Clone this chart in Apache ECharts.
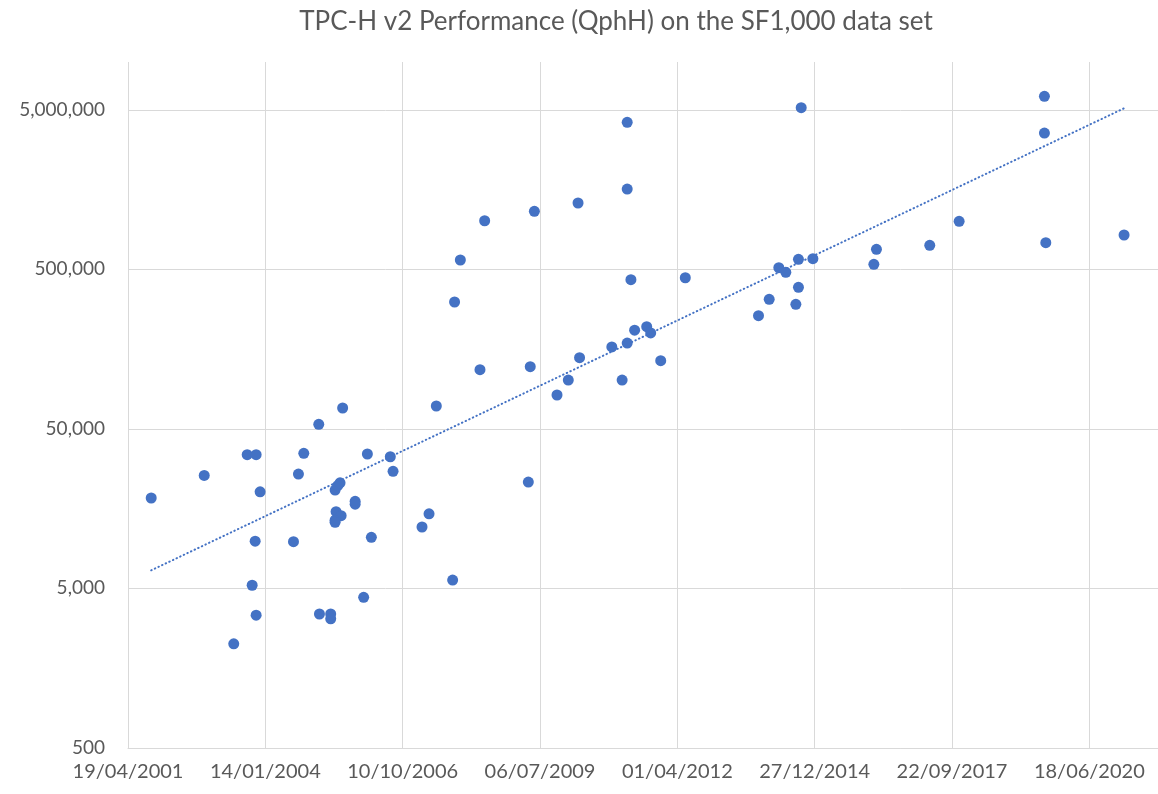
<!DOCTYPE html>
<html>
<head>
<meta charset="utf-8">
<script src="https://cdn.jsdelivr.net/npm/echarts@6/dist/echarts.min.js"></script>
<style>
  html, body { margin: 0; padding: 0; background: #fff; }
  #chart { width: 1158px; height: 794px; }
</style>
</head>
<body>
<div id="chart"></div>
<script>
// x values are Excel date serials (37000 = 19/04/2001), y is QphH
const runDates = [
  37169, 37555, 37868, 37933, 37962, 37926, 37904, 37933, 37770, 38280,
  38241, 38205, 38389, 38563, 38394, 38476, 38476, 38508, 38527, 38544,
  38515, 38552, 38508, 38508, 38654, 38654, 38716, 38743, 38772, 38910,
  38930, 39141, 39192, 39245, 39364, 39378, 39420, 39597, 39563, 39915,
  39929, 39959, 40124, 40206, 40277, 40288, 40523, 40598, 40635, 40635,
  40635, 40662, 40689, 40777, 40806, 40879, 41058, 41591, 41669, 41739,
  41790, 41863, 41882, 41882, 41902, 41987, 42431, 42450, 42838, 43052,
  43673, 43673, 43683, 44253
];
const qphh = [
  18470, 25600, 34500, 34500, 20200, 9900, 5240, 3400, 2250, 35200,
  26100, 9830, 53500, 67700, 3460, 3460, 3230, 20700, 22050, 23000,
  15150, 14300, 13400, 13000, 17600, 16900, 4400, 34850, 10470, 33500,
  27150, 12150, 14700, 69700, 5650, 312800, 573500, 1011000, 117700, 23260,
  122900, 1158000, 81700, 101400, 1306000, 140000, 163400, 101400, 173000, 4187000,
  1598000, 431600, 208200, 219000, 200000, 134000, 444000, 256700, 325200, 513000,
  480000, 302500, 386700, 579500, 5168000, 584500, 539000, 669300, 709000, 1002600,
  6092000, 3587000, 736000, 823000
];
// exponential trendline (straight on the log axis), end points
const trendDates = [37169, 44253];
const trendValues = [6500, 5125000];

const gray = '#595959';
const blue = '#4472C4';
const font = 'Lato';

function serialToLabel(v) {
  const d = new Date(Date.UTC(1899, 11, 30) + Math.round(v) * 86400000);
  const dd = String(d.getUTCDate()).padStart(2, '0');
  const mm = String(d.getUTCMonth() + 1).padStart(2, '0');
  return dd + '/' + mm + '/' + d.getUTCFullYear();
}

const chart = echarts.init(document.getElementById('chart'), null, { renderer: 'canvas' });
chart.setOption({
  animation: false,
  backgroundColor: '#fff',
  title: {
    text: 'TPC-H v2 Performance (QphH) on the SF1,000 data set',
    left: 611,
    top: 4,
    textAlign: 'center',
    textStyle: { color: gray, fontSize: 26, fontWeight: 'normal', fontFamily: font }
  },
  grid: { left: 128, right: 0, top: 62, bottom: 46 },
  xAxis: {
    type: 'value',
    min: 37000,
    max: 44500,
    interval: 1000,
    axisLine: { show: true, lineStyle: { color: '#d9d9d9', width: 1 } },
    axisTick: { show: false },
    splitLine: { show: true, showMaxLine: false, lineStyle: { color: '#d9d9d9', width: 1 } },
    axisLabel: {
      color: gray, fontSize: 20, fontFamily: font, margin: 14,
      showMaxLabel: false,
      formatter: serialToLabel
    }
  },
  yAxis: {
    type: 'log',
    logBase: 10,
    min: 500,
    max: 10000000,
    interval: 1,
    axisLine: { show: false },
    axisTick: { show: false },
    splitLine: { show: true, showMaxLine: false, lineStyle: { color: '#d9d9d9', width: 1 } },
    axisLabel: {
      color: gray, fontSize: 19, fontFamily: font, margin: 23,
      showMaxLabel: false,
      formatter: function (v) {
        const p = Math.pow(10, Math.floor(Math.log10(v)) - 1);
        return (Math.round(v / p) * p).toLocaleString('en-US');
      }
    }
  },
  series: [
    {
      type: 'line',
      data: trendDates.map((d, i) => [d, trendValues[i]]),
      symbol: 'none',
      lineStyle: { color: blue, width: 2, type: [0.5, 3.5], cap: 'round' },
      z: 1
    },
    {
      type: 'scatter',
      data: runDates.map((d, i) => [d, qphh[i]]),
      symbol: 'circle',
      symbolSize: 11,
      itemStyle: { color: blue, opacity: 1 },
      z: 2
    }
  ]
});
</script>
</body>
</html>
